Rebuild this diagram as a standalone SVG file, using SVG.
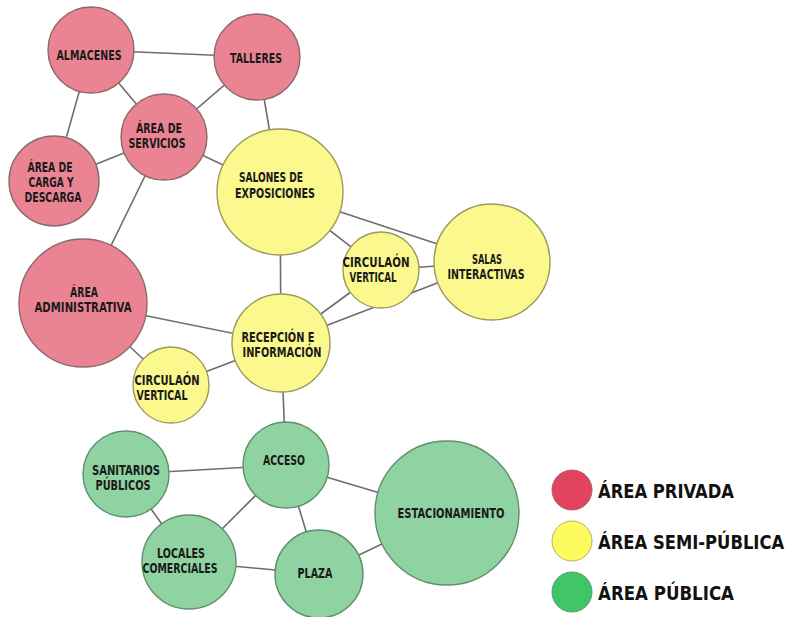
<svg xmlns="http://www.w3.org/2000/svg" width="795" height="617" viewBox="0 0 795 617">
<style>
.edge{stroke:#6e6e6e;stroke-width:1.6;fill:none}
.priv{fill:#EA8493;stroke:#8c6a6c;stroke-width:1.4}
.semi{fill:#FBF98E;stroke:#9a9a5c;stroke-width:1.4}
.pub{fill:#8FD3A2;stroke:#5f8f6c;stroke-width:1.4}
text{font-family:"DejaVu Sans Condensed","Liberation Sans",sans-serif;font-weight:bold;fill:#1a1a1a;text-anchor:middle}
.lbl{font-size:14px}
.leg{font-size:20px;text-anchor:start;fill:#111}
</style>
<rect width="795" height="617" fill="#ffffff"/>
<g id="connectors">
<line class="edge" x1="91" y1="50" x2="257" y2="57"/>
<line class="edge" x1="91" y1="50" x2="164" y2="137"/>
<line class="edge" x1="91" y1="50" x2="54" y2="181"/>
<line class="edge" x1="257" y1="57" x2="164" y2="137"/>
<line class="edge" x1="257" y1="57" x2="280" y2="192"/>
<line class="edge" x1="164" y1="137" x2="54" y2="181"/>
<line class="edge" x1="164" y1="137" x2="280" y2="192"/>
<line class="edge" x1="164" y1="137" x2="83" y2="303"/>
<line class="edge" x1="280" y1="192" x2="492" y2="262"/>
<line class="edge" x1="280" y1="192" x2="381" y2="270"/>
<line class="edge" x1="280" y1="192" x2="281" y2="343"/>
<line class="edge" x1="381" y1="270" x2="492" y2="262"/>
<line class="edge" x1="381" y1="270" x2="281" y2="343"/>
<line class="edge" x1="492" y1="262" x2="281" y2="343"/>
<line class="edge" x1="83" y1="303" x2="281" y2="343"/>
<line class="edge" x1="83" y1="303" x2="171" y2="385"/>
<line class="edge" x1="171" y1="385" x2="281" y2="343"/>
<line class="edge" x1="281" y1="343" x2="286" y2="465"/>
<line class="edge" x1="286" y1="465" x2="126" y2="474"/>
<line class="edge" x1="286" y1="465" x2="189" y2="562"/>
<line class="edge" x1="286" y1="465" x2="319" y2="574"/>
<line class="edge" x1="286" y1="465" x2="447" y2="513"/>
<line class="edge" x1="126" y1="474" x2="189" y2="562"/>
<line class="edge" x1="189" y1="562" x2="319" y2="574"/>
<line class="edge" x1="319" y1="574" x2="447" y2="513"/>
</g>
<g id="almacenes"><circle class="priv" cx="91" cy="50" r="43"/><text class="lbl" x="89" y="60" textLength="65" lengthAdjust="spacingAndGlyphs">ALMACENES</text></g>
<g id="talleres"><circle class="priv" cx="257" cy="57" r="43"/><text class="lbl" x="256" y="63" textLength="52" lengthAdjust="spacingAndGlyphs">TALLERES</text></g>
<g id="area-servicios"><circle class="priv" cx="164" cy="137" r="43"/><text class="lbl" x="159" y="133" textLength="46" lengthAdjust="spacingAndGlyphs">ÁREA DE</text><text class="lbl" x="157" y="148" textLength="57" lengthAdjust="spacingAndGlyphs">SERVICIOS</text></g>
<g id="area-carga"><circle class="priv" cx="54" cy="181" r="45"/><text class="lbl" x="50" y="172" textLength="45" lengthAdjust="spacingAndGlyphs">ÁREA DE</text><text class="lbl" x="51" y="187" textLength="45" lengthAdjust="spacingAndGlyphs">CARGA Y</text><text class="lbl" x="53" y="202" textLength="57" lengthAdjust="spacingAndGlyphs">DESCARGA</text></g>
<g id="salones"><circle class="semi" cx="280" cy="192" r="63"/><text class="lbl" x="271" y="182" textLength="64" lengthAdjust="spacingAndGlyphs">SALONES DE</text><text class="lbl" x="275" y="198" textLength="80" lengthAdjust="spacingAndGlyphs">EXPOSICIONES</text></g>
<g id="area-admin"><circle class="priv" cx="83" cy="303" r="64"/><text class="lbl" x="84" y="297" textLength="28" lengthAdjust="spacingAndGlyphs">ÁREA</text><text class="lbl" x="83" y="312" textLength="97" lengthAdjust="spacingAndGlyphs">ADMINISTRATIVA</text></g>
<g id="circ-right"><circle class="semi" cx="381" cy="270" r="38"/><text class="lbl" x="376" y="267" textLength="67" lengthAdjust="spacingAndGlyphs">CIRCULAÓN</text><text class="lbl" x="373" y="282" textLength="47" lengthAdjust="spacingAndGlyphs">VERTICAL</text></g>
<g id="salas"><circle class="semi" cx="492" cy="262" r="58"/><text class="lbl" x="487" y="264" textLength="30" lengthAdjust="spacingAndGlyphs">SALAS</text><text class="lbl" x="486" y="279" textLength="77" lengthAdjust="spacingAndGlyphs">INTERACTIVAS</text></g>
<g id="recepcion"><circle class="semi" cx="281" cy="343" r="49"/><text class="lbl" x="278" y="342" textLength="73" lengthAdjust="spacingAndGlyphs">RECEPCIÓN E</text><text class="lbl" x="282" y="357" textLength="79" lengthAdjust="spacingAndGlyphs">INFORMACIÓN</text></g>
<g id="circ-left"><circle class="semi" cx="171" cy="385" r="38"/><text class="lbl" x="167" y="385" textLength="65" lengthAdjust="spacingAndGlyphs">CIRCULAÓN</text><text class="lbl" x="162" y="400" textLength="51" lengthAdjust="spacingAndGlyphs">VERTICAL</text></g>
<g id="acceso"><circle class="pub" cx="286" cy="465" r="43"/><text class="lbl" x="284" y="465" textLength="42" lengthAdjust="spacingAndGlyphs">ACCESO</text></g>
<g id="sanitarios"><circle class="pub" cx="126" cy="474" r="43"/><text class="lbl" x="126" y="475" textLength="68" lengthAdjust="spacingAndGlyphs">SANITARIOS</text><text class="lbl" x="123" y="490" textLength="55" lengthAdjust="spacingAndGlyphs">PÚBLICOS</text></g>
<g id="estacionamiento"><circle class="pub" cx="447" cy="513" r="72"/><text class="lbl" x="451" y="518" textLength="107" lengthAdjust="spacingAndGlyphs">ESTACIONAMIENTO</text></g>
<g id="locales"><circle class="pub" cx="189" cy="562" r="47"/><text class="lbl" x="181" y="558" textLength="48" lengthAdjust="spacingAndGlyphs">LOCALES</text><text class="lbl" x="180" y="573" textLength="75" lengthAdjust="spacingAndGlyphs">COMERCIALES</text></g>
<g id="plaza"><circle class="pub" cx="319" cy="574" r="44"/><text class="lbl" x="315" y="578" textLength="35" lengthAdjust="spacingAndGlyphs">PLAZA</text></g>
<g id="legend">
<circle cx="572" cy="490" r="20" fill="#E2435F" stroke="#b0606c" stroke-width="1"/>
<text class="leg" transform="translate(598,498) scale(0.85,1)" x="0" y="0" textLength="160" lengthAdjust="spacingAndGlyphs">ÁREA PRIVADA</text>
<circle cx="572" cy="541" r="20" fill="#FEFB5E" stroke="#b5b070" stroke-width="1"/>
<text class="leg" transform="translate(598,549) scale(0.85,1)" x="0" y="0" textLength="219" lengthAdjust="spacingAndGlyphs">ÁREA SEMI-PÚBLICA</text>
<circle cx="572" cy="592" r="20" fill="#42C468" stroke="#5c9a6c" stroke-width="1"/>
<text class="leg" transform="translate(598,600) scale(0.85,1)" x="0" y="0" textLength="160" lengthAdjust="spacingAndGlyphs">ÁREA PÚBLICA</text>
</g>
</svg>
